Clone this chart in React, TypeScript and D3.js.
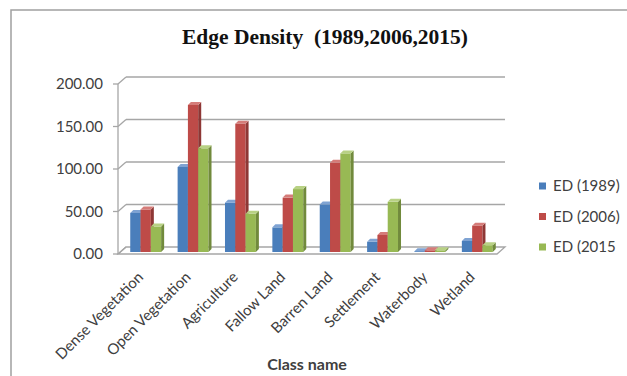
import React from "react";
import * as d3 from "d3";

const categories = [
  "Dense Vegetation",
  "Open Vegetation",
  "Agriculture",
  "Fallow Land",
  "Barren Land",
  "Settlement",
  "Waterbody",
  "Wetland",
];
const seriesNames = ["ED (1989)", "ED (2006)", "ED (2015"];
const ed1989 = [46, 100, 58, 29, 56, 12, 1, 13];
const ed2006 = [50, 173, 151, 64, 105, 20, 2, 31];
const ed2015 = [30, 122, 45, 74, 116, 59, 2, 8];
const yTicks = [0, 50, 100, 150, 200];

const seriesValues = [ed1989, ed2006, ed2015];
const faceColors = ["#4A7EBB", "#BE4B48", "#98B954"];
const sideColors = ["#365E8E", "#8E3735", "#718A3C"];
const topColors = ["#7FA3D3", "#D57C79", "#B8D184"];

export default function App() {
  const W = 627;
  const H = 376;
  const fx0 = 118;
  const fx1 = 497;
  const ddx = 8;
  const ddy = -7;
  const y = d3.scaleLinear().domain([0, 200]).range([254, 84]);
  const x = d3.scaleBand<string>().domain(categories).range([fx0, fx1]);
  const barW = 10.3;
  const sideW = 3;
  const sideH = 3;
  const barBase = 252;
  const barOffset = 4;
  const k = y(0) - y(1);
  const font = "Lato, 'Open Sans', sans-serif";
  const gridColor = "#A6A6A6";

  return (
    <svg width={W} height={H} style={{ position: "absolute", left: 0, top: 0 }}>
      <rect x={0} y={0} width={W} height={H} fill="#fff" />
      {/* frame */}
      <rect x={11} y={10} width={W + 20} height={H + 20} fill="none" stroke="#A0A0A0" strokeWidth={1.5} />
      {/* title */}
      <text x={325} y={44} textAnchor="middle" fontFamily="'Liberation Serif', 'Times New Roman', serif" fontWeight="bold" fontSize={21.5} fill="#111">
        Edge Density{"\u00A0\u00A0"}(1989,2006,2015)
      </text>
      {/* floor */}
      <polygon
        points={`${fx0},${y(0)} ${fx1},${y(0)} ${fx1 + ddx},${y(0) + ddy} ${fx0 + ddx},${y(0) + ddy}`}
        fill="#fff"
        stroke={gridColor}
        strokeWidth={1.3}
      />
      {/* gridlines + side wall */}
      {yTicks.map((t) => (
        <g key={t}>
          {t > 0 && (
            <line x1={fx0 + ddx} x2={fx1 + ddx} y1={y(t) + ddy} y2={y(t) + ddy} stroke={gridColor} strokeWidth={1.5} />
          )}
          <line x1={fx0} x2={fx0 + ddx} y1={y(t)} y2={y(t) + ddy} stroke={gridColor} strokeWidth={1.3} />
          <line x1={fx0 - 5} x2={fx0} y1={y(t)} y2={y(t)} stroke={gridColor} strokeWidth={1.3} />
          <text x={103} y={y(t)} dy="0.35em" textAnchor="end" fontFamily={font} fontSize={15} fill="#404040">
            {d3.format(".2f")(t)}
          </text>
        </g>
      ))}
      <line x1={fx0} x2={fx0} y1={y(200)} y2={y(0)} stroke={gridColor} strokeWidth={1.3} />
      {/* bars */}
      {categories.map((c, ci) => {
        const cx = (x(c) as number) + x.bandwidth() / 2 + barOffset;
        return (
          <g key={c}>
            {seriesValues.map((vals, si) => {
              const bx = cx - (barW * 3) / 2 + si * barW;
              const h = vals[ci] * k;
              const top = barBase - h;
              return (
                <g key={si}>
                  <rect x={bx} y={top} width={barW} height={h} fill={faceColors[si]} />
                  <polygon
                    points={`${bx + barW},${top} ${bx + barW + sideW},${top - sideH} ${bx + barW + sideW},${barBase - sideH} ${bx + barW},${barBase}`}
                    fill={sideColors[si]}
                  />
                  <polygon
                    points={`${bx},${top} ${bx + barW},${top} ${bx + barW + sideW},${top - sideH} ${bx + sideW},${top - sideH}`}
                    fill={topColors[si]}
                  />
                </g>
              );
            })}
          </g>
        );
      })}
      {/* x labels */}
      {categories.map((c) => {
        const lx = (x(c) as number) + x.bandwidth() / 2 + 2.5;
        const ly = 278;
        return (
          <text key={c} x={lx} y={ly} textAnchor="end" transform={`rotate(-45 ${lx} ${ly})`} fontFamily={font} fontSize={15} fill="#404040">
            {c}
          </text>
        );
      })}
      <text x={307} y={370} textAnchor="middle" fontFamily={font} fontWeight="bold" fontSize={16} fill="#404040">
        Class name
      </text>
      {/* legend */}
      {seriesNames.map((s, i) => {
        const ly = 186 + i * 30.5;
        return (
          <g key={s}>
            <rect x={539} y={ly - 3.5} width={7} height={7} fill={faceColors[i]} />
            <text x={553} y={ly} dy="0.35em" fontFamily={font} fontSize={15} fill="#404040">
              {s}
            </text>
          </g>
        );
      })}
    </svg>
  );
}
